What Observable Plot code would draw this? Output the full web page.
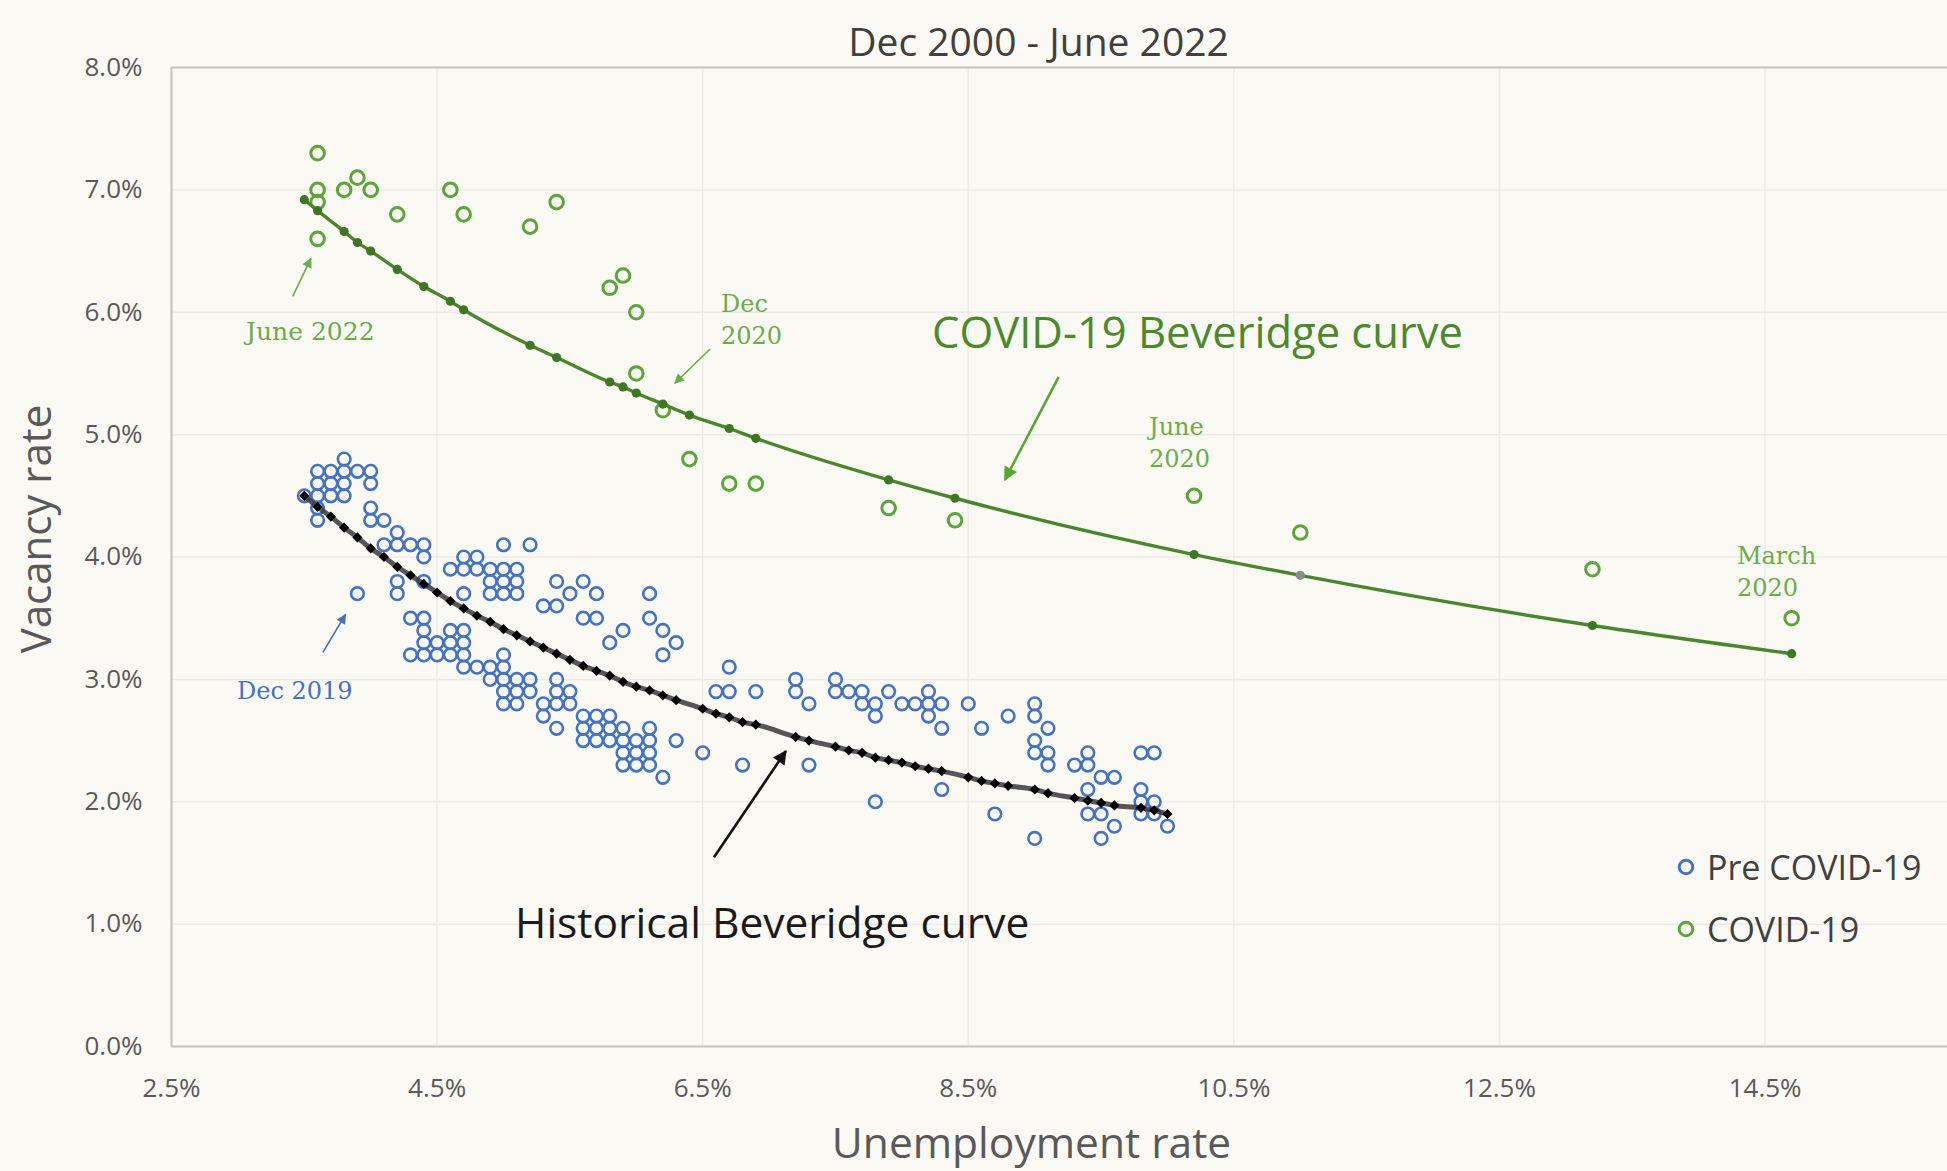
<!DOCTYPE html>
<html>
<head>
<meta charset="utf-8">
<script src="https://cdn.jsdelivr.net/npm/d3@7"></script>
<script src="https://cdn.jsdelivr.net/npm/@observablehq/plot@0.6"></script>
<style>
  body { margin: 0; background: #fbf9f4; }
  #wrap { position: relative; width: 1947px; height: 1171px; overflow: hidden; }
  .lg { position: absolute; left: 1675px; height: 40px; display: flex; align-items: center;
        font-family: "Open Sans", sans-serif; font-size: 34px; color: #404040; line-height: 40px; }
  .lg svg { margin-right: 10px; }
</style>
</head>
<body>
<div id="wrap"></div>
<script>
// ---------------- DATA ----------------
const xTicks = [2.5, 4.5, 6.5, 8.5, 10.5, 12.5, 14.5];
const yTicks = [0, 1, 2, 3, 4, 5, 6, 7, 8];

// Pre COVID-19 (Dec 2000 - Feb 2020): unemployment rate (%) and vacancy rate (%)
const preUnemployment = [
  3.8,
  3.6, 3.7, 3.8, 3.9, 4.0,
  3.6, 3.7, 3.8, 4.0,
  3.5, 3.6, 3.7, 3.8,
  3.6, 4.0,
  3.6, 4.0, 4.1,
  4.2,
  4.1, 4.2, 4.3, 4.4, 5.0, 5.2,
  4.4, 4.7, 4.8,
  4.6, 4.7, 4.8, 4.9, 5.0, 5.1,
  4.2, 4.4, 4.9, 5.0, 5.1, 5.4, 5.6,
  3.9, 4.2, 4.7, 4.9, 5.0, 5.1, 5.5, 5.7, 6.1,
  5.3, 5.4,
  4.3, 4.4, 5.6, 5.7, 6.1,
  4.4, 4.6, 4.7, 5.9, 6.2,
  4.4, 4.5, 4.6, 4.7, 5.8, 6.3,
  4.3, 4.4, 4.5, 4.6, 4.7, 5.0, 6.2,
  4.7, 4.8, 4.9, 5.0, 6.7,
  4.9, 5.0, 5.1, 5.2, 5.4, 7.2, 7.5,
  5.0, 5.1, 5.2, 5.4, 5.5, 6.6, 6.7, 6.9, 7.2, 7.5, 7.6, 7.7, 7.9, 8.2,
  5.0, 5.1, 5.3, 5.4, 5.5, 7.3, 7.7, 7.8, 8.0, 8.1, 8.2, 8.3, 8.5, 9.0,
  5.3, 5.6, 5.7, 5.8, 7.8, 8.2, 8.8, 9.0,
  5.4, 5.6, 5.7, 5.8, 5.9, 6.1, 8.3, 8.6, 9.1,
  5.6, 5.7, 5.8, 5.9, 6.0, 6.1, 6.3, 9.0,
  5.9, 6.0, 6.1, 6.5, 9.0, 9.1, 9.4, 9.8, 9.9,
  5.9, 6.0, 6.1, 6.8, 7.3, 9.1, 9.3, 9.4,
  6.2, 9.5, 9.6,
  8.3, 9.4, 9.8,
  7.8, 9.8, 9.9,
  8.7, 9.4, 9.5, 9.8, 9.9,
  9.6, 10.0,
  9.0, 9.5
];
const preVacancy = [
  4.8,
  4.7, 4.7, 4.7, 4.7, 4.7,
  4.6, 4.6, 4.6, 4.6,
  4.5, 4.5, 4.5, 4.5,
  4.4, 4.4,
  4.3, 4.3, 4.3,
  4.2,
  4.1, 4.1, 4.1, 4.1, 4.1, 4.1,
  4.0, 4.0, 4.0,
  3.9, 3.9, 3.9, 3.9, 3.9, 3.9,
  3.8, 3.8, 3.8, 3.8, 3.8, 3.8, 3.8,
  3.7, 3.7, 3.7, 3.7, 3.7, 3.7, 3.7, 3.7, 3.7,
  3.6, 3.6,
  3.5, 3.5, 3.5, 3.5, 3.5,
  3.4, 3.4, 3.4, 3.4, 3.4,
  3.3, 3.3, 3.3, 3.3, 3.3, 3.3,
  3.2, 3.2, 3.2, 3.2, 3.2, 3.2, 3.2,
  3.1, 3.1, 3.1, 3.1, 3.1,
  3.0, 3.0, 3.0, 3.0, 3.0, 3.0, 3.0,
  2.9, 2.9, 2.9, 2.9, 2.9, 2.9, 2.9, 2.9, 2.9, 2.9, 2.9, 2.9, 2.9, 2.9,
  2.8, 2.8, 2.8, 2.8, 2.8, 2.8, 2.8, 2.8, 2.8, 2.8, 2.8, 2.8, 2.8, 2.8,
  2.7, 2.7, 2.7, 2.7, 2.7, 2.7, 2.7, 2.7,
  2.6, 2.6, 2.6, 2.6, 2.6, 2.6, 2.6, 2.6, 2.6,
  2.5, 2.5, 2.5, 2.5, 2.5, 2.5, 2.5, 2.5,
  2.4, 2.4, 2.4, 2.4, 2.4, 2.4, 2.4, 2.4, 2.4,
  2.3, 2.3, 2.3, 2.3, 2.3, 2.3, 2.3, 2.3,
  2.2, 2.2, 2.2,
  2.1, 2.1, 2.1,
  2.0, 2.0, 2.0,
  1.9, 1.9, 1.9, 1.9, 1.9,
  1.8, 1.8,
  1.7, 1.7
];

// COVID-19 (Mar 2020 - Jun 2022)
const covidUnemployment = [3.6, 3.6, 3.6, 3.6, 3.8, 3.9, 4.0, 4.2, 4.6, 4.7, 5.2, 5.4, 5.8, 5.9, 6.0, 6.0, 6.2, 6.4, 6.7, 6.9, 7.9, 8.4, 10.2, 11.0, 13.2, 14.7];
const covidVacancy      = [7.3, 7.0, 6.9, 6.6, 7.0, 7.1, 7.0, 6.8, 7.0, 6.8, 6.7, 6.9, 6.2, 6.3, 6.0, 5.5, 5.2, 4.8, 4.6, 4.6, 4.4, 4.3, 4.5, 4.2, 3.9, 3.5];

// Fitted historical Beveridge curve
const histTrendU = [3.5, 3.6, 3.7, 3.8, 3.9, 4.0, 4.1, 4.2, 4.3, 4.4, 4.5, 4.6, 4.7, 4.8, 4.9, 5.0, 5.1, 5.2, 5.3, 5.4, 5.5, 5.6, 5.7, 5.8, 5.9, 6.0, 6.1, 6.2, 6.3, 6.5, 6.6, 6.7, 6.8, 6.9, 7.2, 7.3, 7.5, 7.6, 7.7, 7.8, 7.9, 8.0, 8.1, 8.2, 8.3, 8.5, 8.6, 8.7, 8.8, 9.0, 9.1, 9.3, 9.4, 9.5, 9.6, 9.8, 9.9, 10.0];
const histTrendV = [4.50, 4.41, 4.33, 4.24, 4.16, 4.07, 4.00, 3.92, 3.85, 3.78, 3.71, 3.64, 3.58, 3.52, 3.47, 3.41, 3.36, 3.31, 3.26, 3.21, 3.16, 3.11, 3.07, 3.03, 2.98, 2.94, 2.91, 2.87, 2.83, 2.76, 2.72, 2.69, 2.65, 2.63, 2.53, 2.50, 2.45, 2.42, 2.40, 2.36, 2.34, 2.32, 2.29, 2.27, 2.25, 2.20, 2.17, 2.15, 2.13, 2.10, 2.07, 2.03, 2.01, 1.99, 1.97, 1.95, 1.93, 1.90];

// Fitted COVID-19 Beveridge curve
const covidTrendU = [3.5, 3.6, 3.8, 3.9, 4.0, 4.2, 4.4, 4.6, 4.7, 5.2, 5.4, 5.8, 5.9, 6.0, 6.2, 6.4, 6.7, 6.9, 7.9, 8.4, 10.2, 11.0, 13.2, 14.7];
const covidTrendV = [6.92, 6.83, 6.66, 6.57, 6.50, 6.35, 6.21, 6.09, 6.02, 5.73, 5.63, 5.43, 5.39, 5.34, 5.25, 5.16, 5.05, 4.97, 4.63, 4.48, 4.02, 3.85, 3.44, 3.21];

const seriesNames = ["Pre COVID-19", "COVID-19"];
const titleText = "Dec 2000 - June 2022";

// ---------------- BUILD ----------------
const pre = preUnemployment.map((u, i) => ({u, v: preVacancy[i]}));
const covid = covidUnemployment.map((u, i) => ({u, v: covidVacancy[i]}));
const histTrend = histTrendU.map((u, i) => ({u, v: histTrendV[i]}));
const covidTrend = covidTrendU.map((u, i) => ({u, v: covidTrendV[i]}));

const BLUE = "#4472c4", GREEN = "#5ba53b", DKGREEN = "#4a862b", LABELGREEN = "#6aad4a";
const SERIF = "'DejaVu Serif', serif";
const pct = d => d.toFixed(1) + "%";

const plot = Plot.plot({
  width: 1947, height: 1171,
  marginLeft: 171, marginRight: 0, marginTop: 67, marginBottom: 125,
  style: {background: "#fbf9f4", fontFamily: "'Open Sans', sans-serif", fontSize: "24px", overflow: "visible"},
  x: {domain: [2.5, 2.5 + 1776 / 132.8]},
  y: {domain: [0, 8]},
  marks: [
    Plot.gridX(xTicks, {stroke: "#efece6", strokeOpacity: 1, strokeWidth: 1.5}),
    Plot.gridY(yTicks, {stroke: "#eeebe4", strokeOpacity: 1, strokeWidth: 1.5}),
    Plot.ruleY([0, 8], {stroke: "#c4c3c0", strokeWidth: 2}),
    Plot.ruleX([2.5], {stroke: "#c4c3c0", strokeWidth: 2}),
    Plot.axisX(xTicks, {tickSize: 0, tickPadding: 32, tickFormat: pct, fontSize: 26, fill: "#595959", label: null}),
    Plot.axisY(yTicks, {tickSize: 0, tickPadding: 29, tickFormat: pct, fontSize: 26, fill: "#595959", label: null}),
    // data
    Plot.dot(pre, {x: "u", y: "v", r: 6.3, stroke: BLUE, strokeWidth: 2.6, fill: "none", symbol: "circle"}),
    Plot.dot(covid, {x: "u", y: "v", r: 6.8, stroke: GREEN, strokeWidth: 3, fill: "none", symbol: "circle"}),
    // fitted curves
    Plot.line(histTrend, {x: "u", y: "v", stroke: "#3a3a3a", strokeWidth: 5, strokeOpacity: 0.85, curve: "monotone-x"}),
    Plot.dot(histTrend, {x: "u", y: "v", symbol: "diamond2", r: 4.6, fill: "#000"}),
    Plot.line(covidTrend, {x: "u", y: "v", stroke: DKGREEN, strokeWidth: 3.4, curve: "monotone-x"}),
    Plot.dot(covidTrend, {x: "u", y: "v", r: 4.6, fill: d => d.u === 11.0 ? "#8c8c8c" : "#3e7624"}),
    // arrows (order matters for marker post-processing)
    Plot.link([{x1: 3.413, y1: 6.13, x2: 3.55, y2: 6.44}], {x1: "x1", y1: "y1", x2: "x2", y2: "y2", stroke: LABELGREEN, strokeWidth: 1.6}),
    Plot.link([{x1: 3.64, y1: 3.22, x2: 3.81, y2: 3.53}], {x1: "x1", y1: "y1", x2: "x2", y2: "y2", stroke: BLUE, strokeWidth: 1.6}),
    Plot.link([{x1: 6.556, y1: 5.70, x2: 6.29, y2: 5.42}], {x1: "x1", y1: "y1", x2: "x2", y2: "y2", stroke: LABELGREEN, strokeWidth: 1.6}),
    Plot.link([{x1: 9.18, y1: 5.47, x2: 8.775, y2: 4.63}], {x1: "x1", y1: "y1", x2: "x2", y2: "y2", stroke: "#5aa532", strokeWidth: 2.6}),
    Plot.link([{x1: 6.585, y1: 1.546, x2: 7.126, y2: 2.414}], {x1: "x1", y1: "y1", x2: "x2", y2: "y2", stroke: "#111", strokeWidth: 2.6}),
    // annotation labels
    Plot.text(["June 2022"], {x: 3.061, y: 5.84, textAnchor: "start", fontFamily: SERIF, fontSize: 25, fill: LABELGREEN}),
    Plot.text(["Dec 2019"], {x: 2.993, y: 2.90, textAnchor: "start", fontFamily: SERIF, fontSize: 24, fill: BLUE}),
    Plot.text(["Dec\n2020"], {x: 6.638, y: 5.957, textAnchor: "start", lineHeight: 1.33, fontFamily: SERIF, fontSize: 24, fill: LABELGREEN}),
    Plot.text(["June\n2020"], {x: 9.861, y: 4.95, textAnchor: "start", lineHeight: 1.33, fontFamily: SERIF, fontSize: 24, fill: LABELGREEN}),
    Plot.text(["March\n2020"], {x: 14.288, y: 3.895, textAnchor: "start", lineHeight: 1.33, fontFamily: SERIF, fontSize: 24, fill: LABELGREEN}),
    Plot.text(["COVID-19 Beveridge curve"], {x: 8.227, y: 5.818, textAnchor: "start", fontSize: 43.5, fill: "#4b8a2c"}),
    Plot.text(["Historical Beveridge curve"], {x: 5.087, y: 1.0, textAnchor: "start", fontSize: 42.5, fill: "#1a1a1a"}),
    // titles
    Plot.text([titleText], {frameAnchor: "top", lineAnchor: "middle", dx: -21, dy: -24, fontSize: 39, fill: "#404040"}),
    Plot.text(["Vacancy rate"], {frameAnchor: "left", textAnchor: "middle", lineAnchor: "middle", rotate: -90, dx: -134, dy: -28, fontSize: 42, fill: "#595959"}),
    Plot.text(["Unemployment rate"], {frameAnchor: "bottom", lineAnchor: "middle", dx: -28, dy: 98, fontSize: 42.5, fill: "#595959"})
  ]
});

// filled triangular arrowheads
const svg = d3.select(plot);
const defs = svg.insert("defs", ":first-child");
const headSizes = [[11, 10], [11, 10], [11, 10], [17, 14], [17, 14]];
svg.selectAll("g[aria-label='link']").each(function(_, i) {
  const g = d3.select(this);
  const color = g.attr("stroke");
  const [len, wid] = headSizes[i] || [12, 10];
  const id = "ah" + i;
  defs.append("marker").attr("id", id)
    .attr("viewBox", "0 0 10 10").attr("refX", 9).attr("refY", 5)
    .attr("markerUnits", "userSpaceOnUse").attr("markerWidth", len).attr("markerHeight", wid)
    .attr("orient", "auto")
    .append("path").attr("d", "M0,0L10,5L0,10z").attr("fill", color);
  g.selectAll("path").attr("marker-end", `url(#${id})`);
});

const wrap = document.getElementById("wrap");
wrap.appendChild(plot);

// legend
const legendColors = [BLUE, GREEN];
const legendTops = [847, 909];
seriesNames.forEach((name, i) => {
  const div = document.createElement("div");
  div.className = "lg";
  div.style.top = legendTops[i] + "px";
  div.innerHTML = `<svg width="22" height="22"><circle cx="11" cy="11" r="6.8" fill="none" stroke="${legendColors[i]}" stroke-width="3"/></svg><span>${name}</span>`;
  wrap.appendChild(div);
});
</script>
</body>
</html>
